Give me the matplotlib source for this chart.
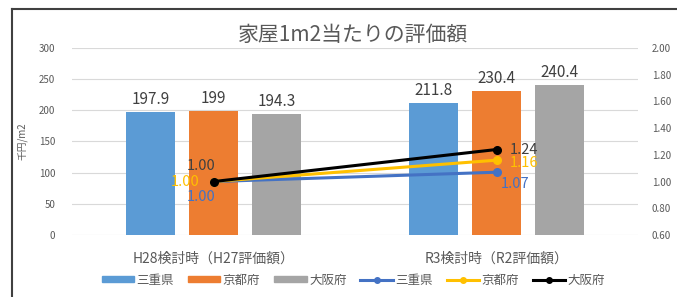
import matplotlib.pyplot as plt
import matplotlib.lines as mlines
import matplotlib.patches as mpatches
import numpy as np

plt.rcParams['font.family'] = ['Noto Sans CJK JP', 'DejaVu Sans']

categories = ['H28検討時（H27評価額）', 'R3検討時（R2評価額）']
prefs = ['三重県', '京都府', '大阪府']
bar_values = {
    '三重県': [197.9, 211.8],
    '京都府': [199, 230.4],
    '大阪府': [194.3, 240.4],
}
bar_labels = {
    '三重県': ['197.9', '211.8'],
    '京都府': ['199', '230.4'],
    '大阪府': ['194.3', '240.4'],
}
ratio_values = {
    '三重県': [1.00, 1.07],
    '京都府': [1.00, 1.16],
    '大阪府': [1.00, 1.24],
}

bar_colors = {'三重県': '#5B9BD5', '京都府': '#ED7D31', '大阪府': '#A5A5A5'}
line_colors = {'三重県': '#4472C4', '京都府': '#FFC000', '大阪府': '#000000'}
label_colors = {'三重県': '#4472C4', '京都府': '#FFC000', '大阪府': '#404040'}
# label offsets in pixels for each point (first, second)
label_offsets = {
    '三重県': [(-12, -15), (19, -12)],
    '京都府': [(-28, 0), (27, -3)],
    '大阪府': [(-12, 16), (27, 0)],
}

grey = '#595959'

fig = plt.figure(figsize=(6.77, 2.97), dpi=100)
ax = fig.add_axes([0.1064, 0.2088, 0.836, 0.6296])
ax2 = ax.twinx()

x = np.arange(len(categories))
width = 0.1725
step = 0.222
for i, p in enumerate(prefs):
    xs = x + (i - 1) * step
    ax.bar(xs, bar_values[p], width, color=bar_colors[p], zorder=2)
    for xi, v, t in zip(xs, bar_values[p], bar_labels[p]):
        ax.annotate(t, xy=(xi, v), xytext=(0, 4), textcoords='offset pixels',
                    ha='center', va='bottom', fontsize=11, color='#404040')

ax.set_xlim(-0.5, 1.5)
ax.set_ylim(0, 300)
ax.set_yticks(np.arange(0, 301, 50))
ax.set_xticks(x)
ax.set_xticklabels(categories, fontsize=10, color=grey)
ax.tick_params(axis='x', length=0, pad=12)
ax.tick_params(axis='y', length=0, labelsize=7, labelcolor=grey, pad=12)
ax.grid(axis='y', color='#D9D9D9', linewidth=0.8, zorder=0)
ax.set_axisbelow(True)
ax.set_ylabel('千円/m2', fontsize=7, color=grey, labelpad=8)

for p in prefs:
    ax2.plot(x, ratio_values[p], color=line_colors[p], linewidth=2.2,
             marker='o', markersize=5.5, zorder=3)
    for xi, v, off in zip(x, ratio_values[p], label_offsets[p]):
        ax2.annotate(f'{v:.2f}', xy=(xi, v), xytext=off, textcoords='offset pixels',
                     ha='center', va='center', fontsize=10.5, color=label_colors[p])

ax2.set_ylim(0.6, 2.0)
ax2.set_yticks(np.arange(0.6, 2.01, 0.2))
ax2.set_yticklabels([f'{v:.2f}' for v in np.arange(0.6, 2.01, 0.2)])
ax2.tick_params(axis='y', length=0, labelsize=7, labelcolor=grey, pad=10)

for a in (ax, ax2):
    for s in a.spines.values():
        s.set_visible(False)

fig.text(0.521, 0.882, '家屋1m2当たりの評価額', ha='center', va='center',
         fontsize=15, color=grey)

handles = [mpatches.Patch(color=bar_colors[p], label=p) for p in prefs]
handles += [mlines.Line2D([], [], color=line_colors[p], linewidth=2.2, marker='o',
                          markersize=4, label=p) for p in prefs]
fig.legend(handles=handles, loc='center', bbox_to_anchor=(0.522, 0.057), ncol=6,
           frameon=False, fontsize=9, handlelength=2.6, handleheight=0.45,
           columnspacing=1.1, handletextpad=0.2, labelcolor=grey)

# outer frame (left and top edges)
fig.add_artist(mlines.Line2D([12 / 677, 12 / 677], [0, 1 - 9 / 297],
                             transform=fig.transFigure, color='#404040', linewidth=1.5))
fig.add_artist(mlines.Line2D([12 / 677, 1], [1 - 9 / 297, 1 - 9 / 297],
                             transform=fig.transFigure, color='#404040', linewidth=1.5))

fig.savefig('out.png', dpi=100)
